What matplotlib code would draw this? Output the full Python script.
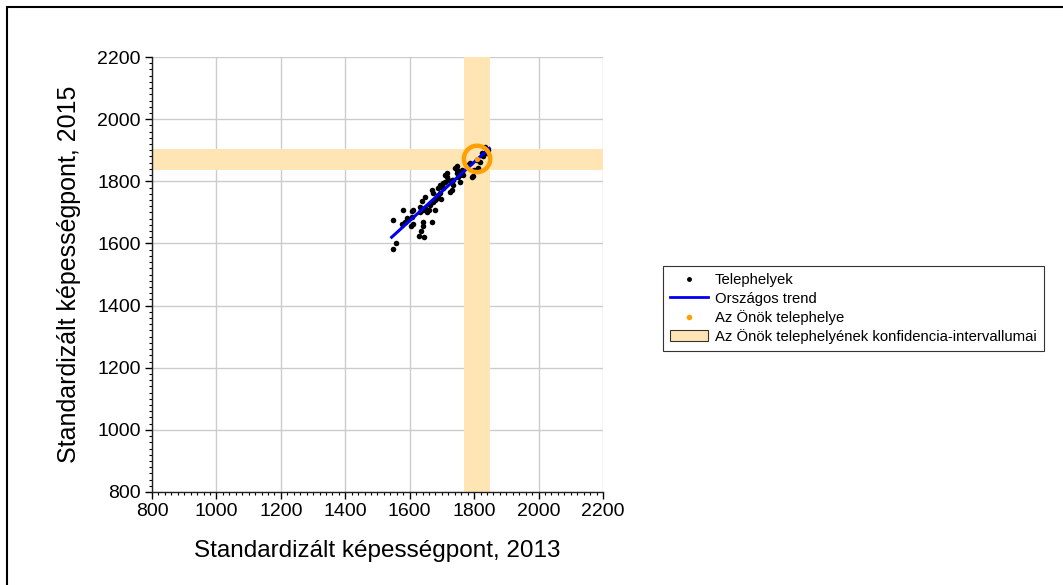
import matplotlib
matplotlib.use("Agg")
import matplotlib.pyplot as plt
from matplotlib.patches import Rectangle, Patch
from matplotlib.lines import Line2D
from matplotlib.ticker import MultipleLocator

plt.rcParams['font.family'] = ['Liberation Sans', 'DejaVu Sans']

# Telephelyek (2013, 2015)
site_x = [1547, 1578, 1557, 1549, 1591, 1585, 1575, 1606, 1611, 1603,
          1632, 1637, 1642, 1653, 1640, 1634, 1630, 1645, 1663, 1661,
          1679, 1673, 1689, 1668, 1668, 1673, 1689, 1694, 1710, 1720,
          1730, 1735, 1704, 1741, 1746, 1751, 1756, 1735, 1761, 1777,
          1787, 1796, 1648, 1679, 1844, 1839, 1824, 1818, 1813, 1793,
          1746, 1748, 1761, 1756, 1766, 1715, 1717, 1710, 1694, 1704,
          1730, 1725, 1689, 1696, 1648, 1632, 1609, 1606, 1642, 1835,
          1828, 1808, 1801]
site_y = [1676, 1708, 1602, 1581, 1683, 1670, 1662, 1704, 1662, 1657,
          1718, 1738, 1708, 1702, 1657, 1640, 1625, 1622, 1724, 1708,
          1708, 1734, 1745, 1668, 1772, 1761, 1777, 1761, 1820, 1804,
          1772, 1788, 1794, 1842, 1826, 1815, 1799, 1804, 1836, 1852,
          1858, 1817, 1750, 1740, 1901, 1890, 1890, 1863, 1842, 1815,
          1849, 1836, 1831, 1820, 1820, 1826, 1813, 1799, 1788, 1777,
          1804, 1767, 1756, 1742, 1713, 1702, 1708, 1684, 1670, 1910,
          1880, 1868, 1835]

# Országos trend
trend_x = [1544, 1847]
trend_y = [1620, 1906]

# Az Önök telephelye és konfidencia-intervallumai
own_x = 1809
own_y = 1872
ci_x = (1769, 1849)
ci_y = (1836, 1904)

xticks = [800, 1000, 1200, 1400, 1600, 1800, 2000, 2200]
yticks = [800, 1000, 1200, 1400, 1600, 1800, 2000, 2200]

band_color = '#FFE5B4'
ring_color = '#FF9F00'

fig = plt.figure(figsize=(10.63, 5.85), dpi=100)
fig.patches.append(Rectangle((7/1063, -0.1), 1.2, 1 - 7/585 + 0.1,
                             transform=fig.transFigure, fill=False,
                             edgecolor='black', linewidth=1.5))

ax = fig.add_axes([152/1063, 1 - 492/585, 451/1063, 435/585])
ax.set_xlim(800, 2200)
ax.set_ylim(800, 2200)
ax.set_xticks(xticks)
ax.set_yticks(yticks)
ax.xaxis.set_minor_locator(MultipleLocator(20))
ax.yaxis.set_minor_locator(MultipleLocator(20))
ax.grid(True, which='major', color='#CCCCCC', linewidth=1.0, zorder=0)
ax.set_axisbelow(True)
for s in ['top', 'right']:
    ax.spines[s].set_visible(False)
for s in ['left', 'bottom']:
    ax.spines[s].set_linewidth(1.0)
    ax.spines[s].set_color('#222222')
ax.tick_params(which='major', direction='out', length=5, width=1, labelsize=14, pad=3)
ax.tick_params(which='minor', direction='out', length=2.5, width=0.8)

ax.axvspan(ci_x[0], ci_x[1], color=band_color, lw=0, zorder=1)
ax.axhspan(ci_y[0], ci_y[1], color=band_color, lw=0, zorder=1)

ax.scatter(site_x, site_y, s=16, color='black', zorder=3, linewidths=0)
ax.plot(trend_x, trend_y, color='#0000EE', linewidth=2.2, zorder=4)
ax.scatter([own_x], [own_y], s=360, facecolors='none', edgecolors=ring_color,
           linewidths=3.2, zorder=5)
ax.scatter([own_x], [own_y], s=8, color=ring_color, zorder=5)

ax.set_xlabel('Standardizált képességpont, 2013', fontsize=17.5, labelpad=14)
ax.set_ylabel('Standardizált képességpont, 2015', fontsize=18, labelpad=12)

handles = [
    Line2D([], [], marker='o', linestyle='none', color='black', markersize=2.5),
    Line2D([], [], color='#0000EE', linewidth=2),
    Line2D([], [], marker='o', linestyle='none', color=ring_color, markersize=3),
    Patch(facecolor=band_color, edgecolor='#333333', linewidth=0.8),
]
labels = ['Telephelyek', 'Országos trend', 'Az Önök telephelye',
          'Az Önök telephelyének konfidencia-intervallumai']
leg = fig.legend(handles, labels, loc='upper left',
                 bbox_to_anchor=(663/1063, 1 - 266/585), fontsize=10.7,
                 frameon=True, fancybox=False, framealpha=1, edgecolor='#333333',
                 borderpad=0.5, labelspacing=0.28, handlelength=2.5,
                 handletextpad=0.5, borderaxespad=0)
leg.get_frame().set_linewidth(0.8)

fig.savefig('out.png', dpi=100)
